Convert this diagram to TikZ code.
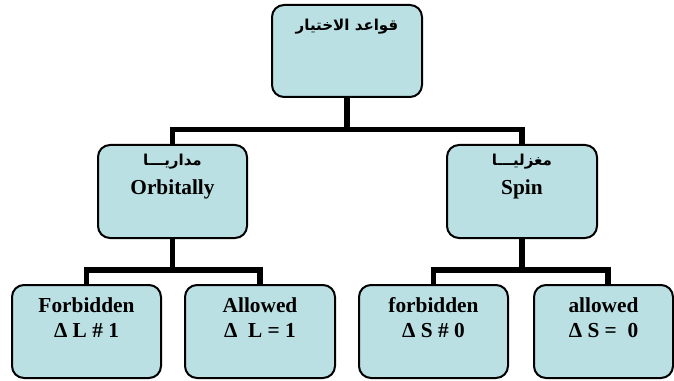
\documentclass[tikz,border=0pt]{standalone}
\usepackage{fontspec}
\setmainfont{Liberation Serif}
\newfontfamily\arabicfont[Script=Arabic]{DejaVu Sans}
\TeXXeTstate=1
\usetikzlibrary{backgrounds}
\definecolor{boxfill}{RGB}{187,224,227}
\tikzset{
  box/.style={draw=black, line width=1.5pt, fill=boxfill, rounded corners=9pt,
              inner sep=0pt, outer sep=0pt},
  txt/.style={anchor=north, inner sep=0pt, align=center,
              font=\bfseries\fontsize{16}{19}\selectfont},
  lat/.style={anchor=base, inner sep=0pt, font=\bfseries\fontsize{16}{19}\selectfont},
  arab/.style={anchor=base, inner sep=0pt, font=\arabicfont\bfseries\fontsize{11.3}{14}\selectfont},
  conn/.style={line width=4.2pt, line cap=rect}
}
\begin{document}
\begin{tikzpicture}[x=0.75pt,y=-0.75pt]
\useasboundingbox (0,0) rectangle (674,381);
% boxes
\node[box, minimum width=150*0.75pt, minimum height=92*0.75pt] (top) at (347,51) {};
\node[box, minimum width=149*0.75pt, minimum height=93*0.75pt] (orb) at (172.5,191.5) {};
\node[box, minimum width=150*0.75pt, minimum height=93*0.75pt] (spin) at (522,191.5) {};
\node[box, minimum width=149*0.75pt, minimum height=93*0.75pt] (b1) at (86.5,331.5) {};
\node[box, minimum width=150*0.75pt, minimum height=93*0.75pt] (b2) at (260,331.5) {};
\node[box, minimum width=149*0.75pt, minimum height=93*0.75pt] (b3) at (433.5,331.5) {};
\node[box, minimum width=139*0.75pt, minimum height=93*0.75pt] (b4) at (603.5,331.5) {};
% junctions
\coordinate (j1) at (347,129.5);
\coordinate (j2) at (172.5,270);
\coordinate (j3) at (522,270);
\coordinate (c4) at (608,285);
% connectors
\begin{scope}[on background layer]
\draw[conn] (top.south) -- (j1);
\draw[conn] (orb.north) |- (j1) -| (spin.north);
\draw[conn] (orb.south) -- (j2);
\draw[conn] (b1.north) |- (j2) -| (b2.north);
\draw[conn] (spin.south) -- (j3);
\draw[conn] (b3.north) |- (j3) -| (c4);
\end{scope}
% texts
\node[arab] (ttop) at (347,31) {\beginR قواعد الاختيار\endR};
\node[arab] (torbA) at (172.5,166) {\beginR مداريـــا\endR};
\node[lat] (torb) at (172.5,195) {Orbitally};
\node[arab] (tspinA) at (522,166) {\beginR مغزليـــا\endR};
\node[lat] (tspin) at (522,195) {Spin};
\node[txt] (t1) at ([yshift=-12*0.75pt]b1.north) {Forbidden\\Δ L \# 1};
\node[txt] (t2) at ([yshift=-12*0.75pt]b2.north) {Allowed\\Δ~~L = 1};
\node[txt] (t3) at ([yshift=-12*0.75pt]b3.north) {forbidden\\Δ S \# 0};
\node[txt] (t4) at ([yshift=-12*0.75pt]b4.north) {allowed\\Δ S =~~0};
\end{tikzpicture}
\end{document}
